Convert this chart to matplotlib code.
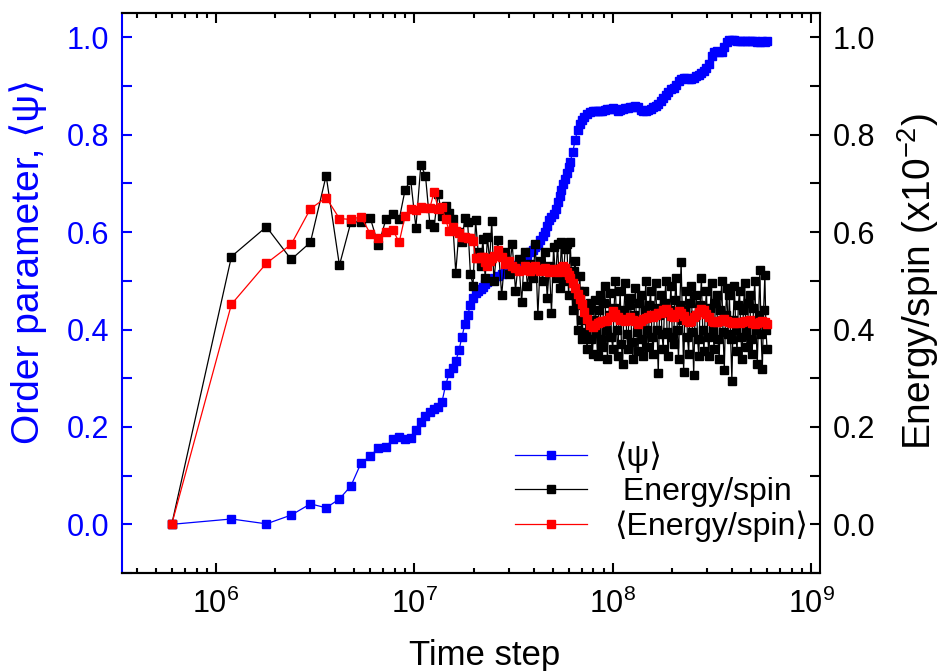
import matplotlib.pyplot as plt
from matplotlib.ticker import MultipleLocator

plt.rcParams['font.family'] = ['Liberation Sans', 'DejaVu Sans']
plt.rcParams['mathtext.fontset'] = 'custom'
plt.rcParams['mathtext.rm'] = 'Liberation Sans'
plt.rcParams['mathtext.default'] = 'regular'

# time steps, in units of 1e6
t_early = [0.6, 1.2, 1.8, 2.4, 3.0, 3.6, 4.2, 4.8, 5.4, 6.0,
           6.6, 7.2, 7.8, 8.4, 9.0, 9.6, 10.2, 10.8, 11.4, 12.0,
           12.6, 13.2, 13.8, 14.4, 15.0, 15.6, 16.2, 16.8, 17.4, 18.0]
t_late = [18.6, 19.2, 19.8, 20.4, 21.0, 21.6, 22.2, 22.8, 23.4, 24.0,
          24.6, 25.2, 26.4, 27.6, 28.8, 30.0, 31.2, 32.4, 33.6, 34.8,
          36.0, 37.2, 38.4, 39.6, 40.8, 42.0, 43.2, 44.4, 45.6, 46.8,
          48.0, 49.2, 50.4, 51.6, 52.8, 54.0, 55.2, 56.4, 57.6, 58.8,
          60.0, 61.2, 63.0, 64.8, 66.6, 68.4, 70.2, 72.0, 74.4, 76.8,
          79.2, 81.6, 84.0, 86.4, 88.8, 91.2, 94.2, 97.2, 100.2, 103.2,
          106.2, 109.2, 112.2, 115.8, 119.4, 123.0, 126.6, 130.2, 134.4, 138.6,
          142.8, 147.0, 151.2, 155.4, 160.2, 165.0, 169.8, 174.6, 180.0, 185.4,
          190.8, 196.8, 202.8, 208.8, 214.8, 221.4, 228.0, 234.6, 241.8, 249.0,
          256.2, 264.0, 271.8, 280.2, 288.6, 297.0, 306.0, 315.0, 324.6, 334.2,
          344.4, 354.6, 365.4, 376.2, 387.6, 399.0, 411.0, 423.6, 436.2, 449.4,
          462.6, 476.4, 490.8, 505.2, 520.2, 535.8, 552.0, 568.2, 585.0, 600.0]

# order parameter <psi>
psi_early = [0.000, 0.011, 0.001, 0.019, 0.042, 0.034, 0.052, 0.079, 0.126, 0.140,
             0.157, 0.159, 0.175, 0.179, 0.175, 0.177, 0.193, 0.210, 0.222, 0.230,
             0.236, 0.240, 0.251, 0.286, 0.310, 0.322, 0.335, 0.357, 0.384, 0.411]
psi_late = [0.430, 0.450, 0.465, 0.475, 0.479, 0.483, 0.488, 0.493, 0.498, 0.501,
            0.503, 0.505, 0.509, 0.514, 0.518, 0.523, 0.528, 0.532, 0.536, 0.541,
            0.547, 0.554, 0.560, 0.564, 0.569, 0.574, 0.583, 0.592, 0.601, 0.613,
            0.625, 0.631, 0.637, 0.648, 0.662, 0.675, 0.686, 0.698, 0.709, 0.721,
            0.733, 0.745, 0.765, 0.790, 0.810, 0.822, 0.830, 0.836, 0.842, 0.847,
            0.848, 0.849, 0.848, 0.848, 0.849, 0.851, 0.852, 0.853, 0.855, 0.852,
            0.848, 0.850, 0.852, 0.854, 0.855, 0.856, 0.857, 0.859, 0.857, 0.851,
            0.848, 0.849, 0.851, 0.852, 0.856, 0.860, 0.864, 0.869, 0.875, 0.882,
            0.888, 0.893, 0.896, 0.903, 0.910, 0.914, 0.917, 0.916, 0.914, 0.914,
            0.917, 0.920, 0.922, 0.926, 0.931, 0.938, 0.946, 0.962, 0.970, 0.971,
            0.970, 0.969, 0.980, 0.990, 0.994, 0.995, 0.994, 0.993, 0.992, 0.993,
            0.992, 0.993, 0.992, 0.993, 0.992, 0.991, 0.990, 0.992, 0.991, 0.992]

# running average <energy/spin>
avg_early = [0.000, 0.452, 0.536, 0.575, 0.648, 0.671, 0.628, 0.626, 0.632, 0.597,
             0.587, 0.601, 0.605, 0.579, 0.634, 0.648, 0.646, 0.652, 0.650, 0.650,
             0.683, 0.648, 0.652, 0.626, 0.603, 0.611, 0.603, 0.599, 0.591, 0.591]
avg_late = [0.589, 0.587, 0.581, 0.546, 0.546, 0.550, 0.548, 0.538, 0.531, 0.540,
            0.546, 0.552, 0.563, 0.548, 0.535, 0.540, 0.530, 0.526, 0.520, 0.523,
            0.530, 0.528, 0.521, 0.525, 0.530, 0.524, 0.520, 0.522, 0.527, 0.523,
            0.519, 0.522, 0.524, 0.520, 0.518, 0.522, 0.527, 0.531, 0.526, 0.518,
            0.511, 0.505, 0.495, 0.485, 0.472, 0.463, 0.452, 0.437, 0.422, 0.410,
            0.405, 0.410, 0.413, 0.415, 0.418, 0.417, 0.420, 0.425, 0.438, 0.432,
            0.425, 0.420, 0.421, 0.418, 0.420, 0.425, 0.420, 0.417, 0.412, 0.418,
            0.422, 0.424, 0.426, 0.430, 0.426, 0.430, 0.435, 0.433, 0.440, 0.442,
            0.437, 0.428, 0.425, 0.432, 0.438, 0.434, 0.428, 0.420, 0.415, 0.418,
            0.425, 0.430, 0.436, 0.442, 0.440, 0.432, 0.425, 0.418, 0.415, 0.416,
            0.418, 0.420, 0.421, 0.418, 0.415, 0.414, 0.413, 0.415, 0.414, 0.415,
            0.418, 0.417, 0.419, 0.414, 0.412, 0.413, 0.415, 0.418, 0.415, 0.412]

# energy/spin (x1e-2), sampled more densely where it is noisy
e_t_late = [18.6, 19.2, 19.8, 20.4, 21.0, 21.6, 22.2, 22.8, 23.4, 24.0,
            24.6, 25.2, 26.4, 27.6, 28.8, 30.0, 31.2, 32.4, 33.6, 34.8,
            36.0, 37.2, 38.4, 39.6, 40.8, 42.0, 43.2, 44.4, 45.6, 46.8,
            48.0, 49.2, 50.4, 51.6, 52.8, 54.0, 55.2, 56.4, 57.6, 58.8,
            60.0, 61.2, 62.1, 63.0, 63.9, 64.8, 65.7, 66.6, 67.5, 68.4,
            69.3, 70.2, 71.1, 72.0, 73.2, 74.4, 75.6, 76.8, 78.0, 79.2,
            80.4, 81.6, 82.8, 84.0, 85.2, 86.4, 87.6, 88.8, 90.0, 91.2,
            92.7, 94.2, 95.7, 97.2, 98.7, 100.2, 101.7, 103.2, 104.7, 106.2,
            107.7, 109.2, 110.7, 112.2, 114.0, 115.8, 117.6, 119.4, 121.2, 123.0,
            124.8, 126.6, 128.4, 130.2, 132.3, 134.4, 136.5, 138.6, 140.7, 142.8,
            144.9, 147.0, 149.1, 151.2, 153.3, 155.4, 157.8, 160.2, 162.6, 165.0,
            167.4, 169.8, 172.2, 174.6, 177.3, 180.0, 182.7, 185.4, 188.1, 190.8,
            193.8, 196.8, 199.8, 202.8, 205.8, 208.8, 211.8, 214.8, 218.1, 221.4,
            224.7, 228.0, 231.3, 234.6, 238.2, 241.8, 245.4, 249.0, 252.6, 256.2,
            260.1, 264.0, 267.9, 271.8, 276.0, 280.2, 284.4, 288.6, 292.8, 297.0,
            301.5, 306.0, 310.5, 315.0, 319.8, 324.6, 329.4, 334.2, 339.3, 344.4,
            349.5, 354.6, 360.0, 365.4, 370.8, 376.2, 381.9, 387.6, 393.3, 399.0,
            405.0, 411.0, 417.3, 423.6, 429.9, 436.2, 442.8, 449.4, 456.0, 462.6,
            469.5, 476.4, 483.6, 490.8, 498.0, 505.2, 512.7, 520.2, 528.0, 535.8,
            543.9, 552.0, 560.1, 568.2, 576.6, 585.0, 592.5, 600.0]
energy_early = [0.000, 0.550, 0.611, 0.544, 0.579, 0.716, 0.532, 0.621, 0.621, 0.630,
                0.573, 0.626, 0.637, 0.626, 0.687, 0.708, 0.609, 0.738, 0.716, 0.616,
                0.611, 0.679, 0.633, 0.654, 0.640, 0.628, 0.517, 0.600, 0.579, 0.630]
energy_late = [0.620, 0.515, 0.490, 0.624, 0.560, 0.530, 0.585, 0.505, 0.591, 0.540,
               0.622, 0.500, 0.583, 0.470, 0.560, 0.515, 0.575, 0.480, 0.545, 0.456,
               0.560, 0.490, 0.535, 0.505, 0.575, 0.430, 0.540, 0.500, 0.560, 0.465,
               0.530, 0.435, 0.570, 0.505, 0.575, 0.485, 0.580, 0.500, 0.565, 0.575,
               0.470, 0.579, 0.500, 0.440, 0.520, 0.540, 0.455, 0.400, 0.480, 0.510,
               0.420, 0.380, 0.450, 0.480, 0.395, 0.360, 0.440, 0.455, 0.380, 0.350,
               0.420, 0.460, 0.395, 0.345, 0.440, 0.470, 0.380, 0.365, 0.455, 0.490,
               0.400, 0.340, 0.430, 0.475, 0.385, 0.360, 0.445, 0.500, 0.400, 0.345,
               0.425, 0.480, 0.370, 0.330, 0.440, 0.495, 0.390, 0.360, 0.450, 0.465,
               0.375, 0.340, 0.430, 0.485, 0.395, 0.355, 0.455, 0.470, 0.380, 0.345,
               0.440, 0.500, 0.400, 0.365, 0.450, 0.480, 0.385, 0.350, 0.445, 0.495,
               0.400, 0.310, 0.430, 0.470, 0.390, 0.360, 0.455, 0.500, 0.395, 0.345,
               0.440, 0.490, 0.385, 0.370, 0.460, 0.505, 0.400, 0.340, 0.450, 0.538,
               0.420, 0.313, 0.440, 0.480, 0.385, 0.350, 0.455, 0.490, 0.395, 0.307,
               0.430, 0.470, 0.380, 0.345, 0.450, 0.505, 0.400, 0.355, 0.440, 0.480,
               0.385, 0.345, 0.445, 0.495, 0.400, 0.360, 0.455, 0.470, 0.380, 0.340,
               0.440, 0.500, 0.395, 0.317, 0.430, 0.485, 0.390, 0.470, 0.380, 0.295,
               0.420, 0.490, 0.400, 0.355, 0.450, 0.480, 0.385, 0.340, 0.440, 0.495,
               0.400, 0.365, 0.455, 0.470, 0.380, 0.350, 0.445, 0.500, 0.400, 0.330,
               0.430, 0.522, 0.390, 0.319, 0.440, 0.512, 0.400, 0.360]

time = [v * 1e6 for v in t_early + t_late]
e_time = [v * 1e6 for v in t_early + e_t_late]
psi = psi_early + psi_late
energy = energy_early + energy_late
energy_avg = avg_early + avg_late

fig = plt.figure(figsize=(9.4, 6.71), dpi=100)
ax = fig.add_axes([0.1298, 0.146, 0.7426, 0.8346])
ax2 = ax.twinx()

h1, = ax.plot(time, psi, color='#0000ff', lw=0.9, marker='s', ms=6, label='⟨ψ⟩')
h2, = ax2.plot(e_time, energy, color='black', lw=0.9, marker='s', ms=6, label=' Energy/spin')
h3, = ax2.plot(time, energy_avg, color='#ff0000', lw=0.9, marker='s', ms=6,
               label='⟨Energy/spin⟩')

ax.set_xscale('log')
ax.set_xlim(3.37e5, 1.11e9)
for a in (ax, ax2):
    a.set_ylim(-0.1, 1.05)
    a.yaxis.set_major_locator(MultipleLocator(0.2))
    a.yaxis.set_minor_locator(MultipleLocator(0.1))
    for s in a.spines.values():
        s.set_linewidth(1.5)

ax.spines['left'].set_color('#0000ff')
ax.spines['right'].set_visible(False)
ax2.spines['left'].set_visible(False)

ax.tick_params(axis='x', which='both', direction='in', top=True, bottom=True,
               width=1.5, labelsize=22, pad=11)
ax.tick_params(axis='x', which='major', length=7.5)
ax.tick_params(axis='x', which='minor', length=3.8)
ax.tick_params(axis='y', which='both', direction='in', length=7.5, width=1.5,
               colors='#0000ff', labelsize=22, pad=9, right=False)
ax2.tick_params(axis='y', which='both', direction='in', length=7.5, width=1.5,
                labelsize=22, pad=9)

ax.set_xlabel('Time step', fontsize=25)
ax.xaxis.set_label_coords(0.52, -0.118)
ax.set_ylabel('Order parameter, ⟨ψ⟩', color='#0000ff', fontsize=28)
ax.yaxis.set_label_coords(-0.107, 0.557)
ax2.set_ylabel('Energy/spin (x10$^{-2}$)', fontsize=28)
ax2.yaxis.set_label_coords(1.108, 0.52)

ax2.legend([h1, h2, h3], [h.get_label() for h in (h1, h2, h3)],
           loc='upper left', bbox_to_anchor=(0.563, 0.235), frameon=False,
           fontsize=23, handlelength=2.25, handletextpad=0.85, labelspacing=0.12,
           borderpad=0, borderaxespad=0, markerscale=0.85)

fig.savefig('out.png', dpi=100, facecolor='white')
